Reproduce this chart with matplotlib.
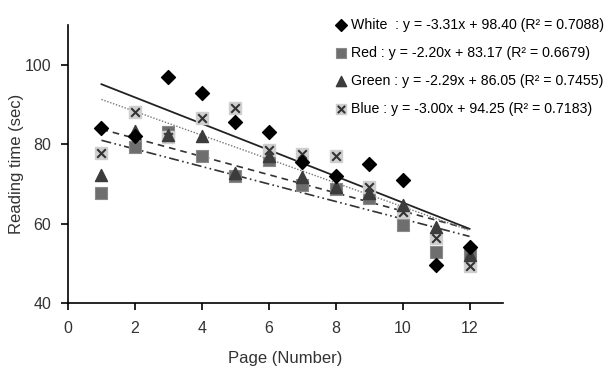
import matplotlib
matplotlib.use("Agg")
import matplotlib.pyplot as plt
import numpy as np

plt.rcParams['font.family'] = ['Liberation Sans', 'DejaVu Sans']

pages = [1, 2, 3, 4, 5, 6, 7, 8, 9, 10, 11, 12]
white = [84.0, 82.0, 97.0, 93.0, 85.5, 83.0, 75.6, 72.1, 75.0, 71.0, 49.6, 54.2]
red = [67.8, 79.4, 83.0, 77.1, 72.0, 75.9, 69.7, 68.7, 66.5, 59.7, 52.9, 52.5]
green = [72.3, 83.2, 82.2, 82.1, 72.7, 76.9, 71.8, 69.3, 67.6, 64.7, 59.2, 52.1]
blue = [77.7, 88.2, 81.8, 86.6, 89.1, 78.6, 77.6, 77.1, 69.3, 63.0, 56.3, 49.2]

names = ["White", "Red", "Green", "Blue"]
slopes = [-3.31, -2.20, -2.29, -3.00]
intercepts = [98.40, 83.17, 86.05, 94.25]
r2 = [0.7088, 0.6679, 0.7455, 0.7183]
labels = ["White  : y = -3.31x + 98.40 (R\u00b2 = 0.7088)",
          "Red : y = -2.20x + 83.17 (R\u00b2 = 0.6679)",
          "Green : y = -2.29x + 86.05 (R\u00b2 = 0.7455)",
          "Blue : y = -3.00x + 94.25 (R\u00b2 = 0.7183)"]

xticks = [0, 2, 4, 6, 8, 10, 12]
yticks = [40, 60, 80, 100]

fig = plt.figure(figsize=(6.13, 3.70), dpi=100)
ax = fig.add_axes([68/613, 1-303/370, (503-68)/613, (303-25)/370])

# trend lines
xs = np.array([pages[0], pages[-1]], dtype=float)
line_styles = [dict(color='#222222', lw=1.3, ls='-'),
               dict(color='#333333', lw=1.2, ls=(0, (6, 2, 1, 2, 1, 2))),
               dict(color='#333333', lw=1.2, ls=(0, (4, 3))),
               dict(color='#777777', lw=1.0, ls=(0, (1, 1.2)))]
for s, b, st in zip(slopes, intercepts, line_styles):
    ax.plot(xs, s*xs + b, zorder=2, **st)

h_red = ax.scatter(pages, red, marker='s', s=75, color='#6e6e6e', edgecolors='#8a8a8a', linewidths=0.8, zorder=3)
h_green = ax.scatter(pages, green, marker='^', s=75, color='#3c3c3c', zorder=4)
h_blue_bg = ax.scatter(pages, blue, marker='s', s=80, color='#cfcfcf', zorder=3.5)
h_blue_x = ax.scatter(pages, blue, marker='x', s=38, color='#333333', linewidths=1.5, zorder=3.6)
h_white = ax.scatter(pages, white, marker='D', s=50, color='#000000', zorder=5)

ax.set_xlim(0, 13)
ax.set_ylim(40, 110)
ax.set_xticks(xticks)
ax.set_yticks(yticks)
ax.spines['top'].set_visible(False)
ax.spines['right'].set_visible(False)
for sp in ['left', 'bottom']:
    ax.spines[sp].set_linewidth(1.2)
ax.tick_params(direction='out', length=5, width=1.2, labelsize=11.5, labelcolor='#333333')
ax.tick_params(axis='x', pad=8)
ax.tick_params(axis='y', pad=7)
ax.set_xlabel("Page (Number)", fontsize=12, color='#333333', labelpad=11)
ax.set_ylabel("Reading time (sec)", fontsize=12, color='#333333', labelpad=0.5)

leg = fig.legend([h_white, h_red, h_green, (h_blue_bg, h_blue_x)], labels,
                 loc='upper left', bbox_to_anchor=(335/613, 1-18/370),
                 frameon=False, fontsize=10.2, handlelength=0.9, handletextpad=0.25,
                 labelspacing=0.98, borderaxespad=0, borderpad=0, markerscale=0.85)

fig.savefig("out.png", dpi=100)
